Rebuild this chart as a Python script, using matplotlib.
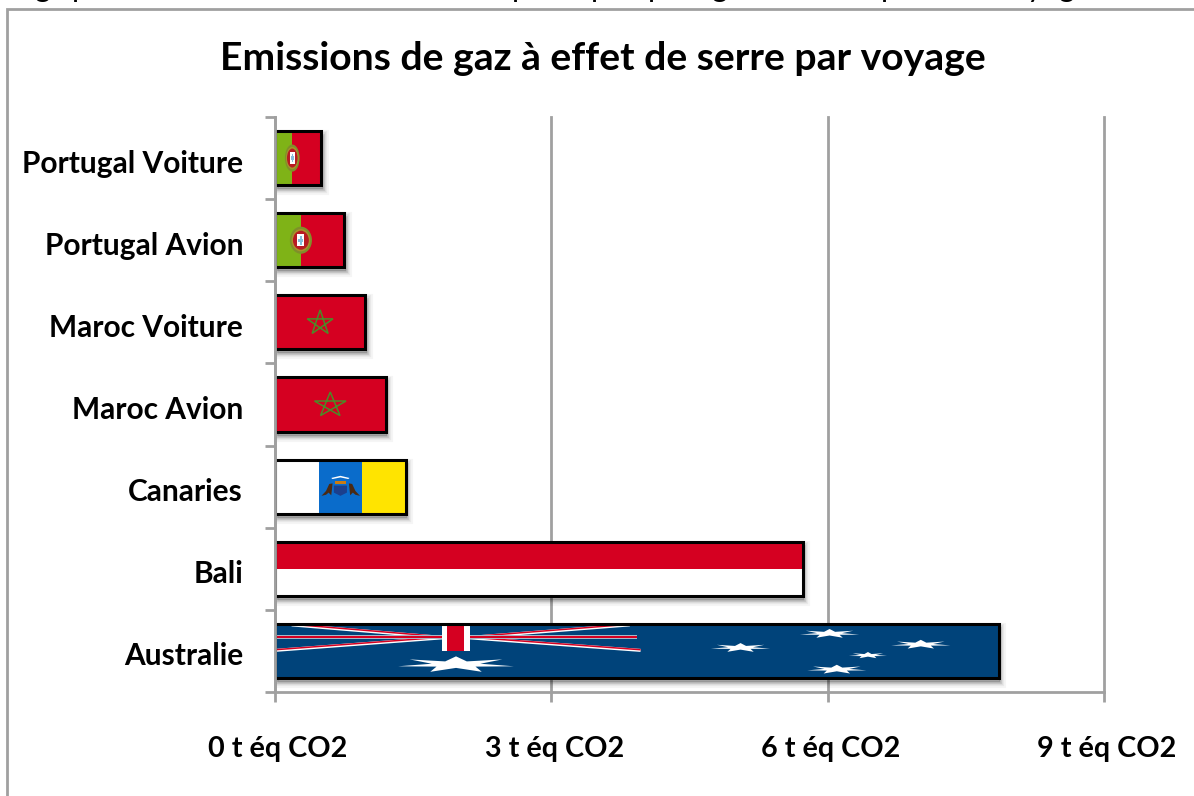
import numpy as np
import matplotlib
matplotlib.use("Agg")
import matplotlib.pyplot as plt
from matplotlib.patches import Rectangle, Ellipse, Polygon
from matplotlib.lines import Line2D
from matplotlib.transforms import Affine2D, ScaledTranslation

# --- data -------------------------------------------------------------
title = "Emissions de gaz à effet de serre par voyage"
categories = ["Australie", "Bali", "Canaries", "Maroc Avion", "Maroc Voiture",
              "Portugal Avion", "Portugal Voiture"]
values = [7.86, 5.73, 1.42, 1.20, 0.98, 0.75, 0.50]
flags = ["australia", "bali", "canaries", "morocco", "morocco", "portugal", "portugal"]
x_ticks = [0, 3, 6, 9]
x_labels = ["0 t éq CO2", "3 t éq CO2", "6 t éq CO2", "9 t éq CO2"]
cut_line_glyphs = ["g", "p", "p", "p", "p", "g", "p", "y", "g"]
cut_line_x = [43, 80, 520, 599, 656, 720, 889, 1035, 1067]

# --- style ------------------------------------------------------------
W, H = 1194, 796
GRAY = "#A0A0A0"
FONT = "Lato"
BAR_H = 0.66
RED = "#D50021"
GREEN = "#7FB317"
NAVY = "#00437A"

fig = plt.figure(figsize=(W / 100, H / 100), dpi=100, facecolor="white")
ax = fig.add_axes([275 / W, 1 - 692 / H, (1104 - 275) / W, (692 - 117) / H])
ax.set_xlim(0, 9)
ax.set_ylim(0, 7)
ax.patch.set_alpha(0)

# chart frame, running off the right and bottom of the picture
fig.add_artist(Line2D([7 / W, 7 / W, 1], [0, 1 - 9 / H, 1 - 9 / H], color=GRAY, lw=2.0,
                      solid_joinstyle="miter"))

# clipped line of text above the frame: only its descenders are visible
for g, gx in zip(cut_line_glyphs, cut_line_x):
    fig.text(gx / W, 1 + 3 / H, g, fontsize=22, family=FONT, ha="center", va="baseline",
             color="black")

ax.grid(axis="x", color=GRAY, lw=2.0, zorder=1, clip_on=False)
ax.set_axisbelow(True)
ax.set_xticks(x_ticks)
ax.set_xticklabels(x_labels, fontsize=20.7, family=FONT, fontweight="bold")
ax.set_yticks(np.arange(0, len(categories) + 1))
ax.set_yticklabels([])
ax.set_yticks(np.arange(len(categories)) + 0.5, minor=True)
ax.set_yticklabels(categories, minor=True, fontsize=21.5, family=FONT, fontweight="bold")
ax.tick_params(axis="y", which="major", length=7.2, width=2.0, color=GRAY)
ax.tick_params(axis="y", which="minor", length=0, pad=23)
ax.tick_params(axis="x", length=7.2, width=2.0, color=GRAY, pad=24.5)
for gl in ax.get_xgridlines():
    gl.set_clip_on(False)
for lab in ax.get_xticklabels():
    lab.set_transform(lab.get_transform() + ScaledTranslation(3 / 100, 0, fig.dpi_scale_trans))
for lab in ax.get_yticklabels(minor=True):
    lab.set_transform(lab.get_transform() + ScaledTranslation(0, -3 / 100, fig.dpi_scale_trans))
for s in ["top", "right"]:
    ax.spines[s].set_visible(False)
for s in ["left", "bottom"]:
    ax.spines[s].set_color(GRAY)
    ax.spines[s].set_linewidth(2.0)
    ax.spines[s].set_zorder(8)

fig.text(603 / W, 1 - 58 / H, title, fontsize=28.2, family=FONT, fontweight="bold",
         ha="center", va="center")


def star(cx, cy, rx, ry, n=7, inner=0.42):
    ang = np.pi / 2 + np.arange(2 * n) * np.pi / n
    r = np.where(np.arange(2 * n) % 2 == 0, 1.0, inner)
    return np.column_stack([cx + rx * r * np.cos(ang), cy + ry * r * np.sin(ang)])


def rect(tf, x0, y0, x1, y1, color, z=4):
    ax.add_patch(Rectangle((x0, y0), x1 - x0, y1 - y0, fc=color, ec="none", transform=tf, zorder=z))


def ell(tf, cx, cy, w, h, color, z=5):
    ax.add_patch(Ellipse((cx, cy), w, h, fc=color, ec="none", transform=tf, zorder=z))


def draw_portugal(tf):
    rect(tf, 0, 0, 1, 1, RED)
    rect(tf, 0, 0, 0.375, 1, GREEN)
    ell(tf, 0.375, 0.5, 0.32, 0.50, "#7F8F2A")
    ell(tf, 0.375, 0.5, 0.27, 0.41, "#A8922A")
    ell(tf, 0.375, 0.5, 0.23, 0.35, "#B81B22")
    rect(tf, 0.325, 0.39, 0.425, 0.61, "white", 5.1)
    rect(tf, 0.362, 0.42, 0.388, 0.58, "#86BEDC", 5.2)
    rect(tf, 0.340, 0.47, 0.410, 0.53, "#86BEDC", 5.2)


def draw_morocco(tf):
    rect(tf, 0, 0, 1, 1, RED)
    a = np.pi / 2 + np.arange(5) * 2 * 2 * np.pi / 5
    pts = np.column_stack([0.5 + 0.15 * np.cos(a), 0.49 + 0.24 * np.sin(a)])
    ax.add_patch(Polygon(pts, closed=True, fc="none", ec="#4C8A28", lw=1.1, transform=tf, zorder=5))


def draw_canaries(tf):
    rect(tf, 0, 0, 1 / 3, 1, "white")
    rect(tf, 1 / 3, 0, 2 / 3, 1, "#0A6CCB")
    rect(tf, 2 / 3, 0, 1, 1, "#FFE400")
    ax.add_patch(Polygon([(0.43, 0.66), (0.5, 0.70), (0.57, 0.66), (0.56, 0.64), (0.5, 0.67), (0.44, 0.64)],
                         fc="white", ec="none", transform=tf, zorder=5))
    rect(tf, 0.46, 0.54, 0.54, 0.60, "#C97B12", 5)
    ax.add_patch(Polygon([(0.45, 0.52), (0.55, 0.52), (0.55, 0.39), (0.5, 0.33), (0.45, 0.39)],
                         fc="#1B3F8C", ec="none", transform=tf, zorder=5))
    for cx, s in [(0.40, 1), (0.605, -1)]:
        ax.add_patch(Polygon([(cx + s * 0.04, 0.56), (cx + s * 0.015, 0.55), (cx - s * 0.01, 0.42),
                              (cx - s * 0.045, 0.33), (cx - s * 0.01, 0.35), (cx + s * 0.01, 0.39),
                              (cx + s * 0.03, 0.34), (cx + s * 0.035, 0.44)],
                             fc="#4A2A14", ec="none", transform=tf, zorder=5))


def draw_bali(tf):
    rect(tf, 0, 0.5, 1, 1, RED)
    rect(tf, 0, 0, 1, 0.5, "white")


def draw_australia(tf):
    rect(tf, 0, 0, 1, 1, NAVY)
    diag = [((0.023, 0.98), (0.235, 0.745)), ((0.0, 0.51), (0.235, 0.745)),
            ((0.49, 0.98), (0.265, 0.745)), ((0.505, 0.51), (0.265, 0.745))]
    for p, q in diag:
        ax.plot([p[0], q[0]], [p[1], q[1]], color="white", lw=2.2, transform=tf, zorder=4.2,
                solid_capstyle="butt")
        ax.plot([p[0], q[0]], [p[1] + 0.012, q[1] + 0.012], color=RED, lw=1.1, transform=tf,
                zorder=4.3, solid_capstyle="butt")
    rect(tf, 0, 0.715, 0.5, 0.785, "#A9B8C8", 4.4)
    rect(tf, 0, 0.73, 0.5, 0.77, RED, 4.5)
    rect(tf, 0.23, 0.5, 0.269, 1, "white", 4.6)
    rect(tf, 0.237, 0.5, 0.261, 1, RED, 4.7)
    stars = [(0.25, 0.25, 0.082, 0.15), (0.766, 0.82, 0.042, 0.085), (0.643, 0.56, 0.042, 0.085),
             (0.892, 0.62, 0.042, 0.085), (0.819, 0.42, 0.027, 0.06), (0.776, 0.16, 0.042, 0.085)]
    for cx, cy, rx, ry in stars:
        ax.add_patch(Polygon(star(cx, cy, rx, ry), fc="white", ec="none", transform=tf, zorder=5))


drawers = {"portugal": draw_portugal, "morocco": draw_morocco, "canaries": draw_canaries,
           "bali": draw_bali, "australia": draw_australia}

y_pos = np.arange(len(categories)) + 0.5
for y, v, flag in zip(y_pos, values, flags):
    # soft drop shadow
    for lw, al in [(8, 0.04), (6, 0.05), (4, 0.07), (2, 0.09)]:
        shift = ScaledTranslation(1.5 / 100, -4 / 100, fig.dpi_scale_trans)
        ax.barh(y, v, height=BAR_H, color="black", edgecolor="black", linewidth=lw, alpha=al,
                transform=ax.transData + shift, zorder=2)
    unit = Affine2D().scale(v, BAR_H).translate(0, y - BAR_H / 2) + ax.transData
    drawers[flag](unit)
    ax.barh(y, v, height=BAR_H, facecolor="none", edgecolor="black", linewidth=2.2, zorder=6)

ax.set_xlim(0, 9)
ax.set_ylim(0, 7)
fig.savefig("out.png", dpi=100, facecolor="white")
